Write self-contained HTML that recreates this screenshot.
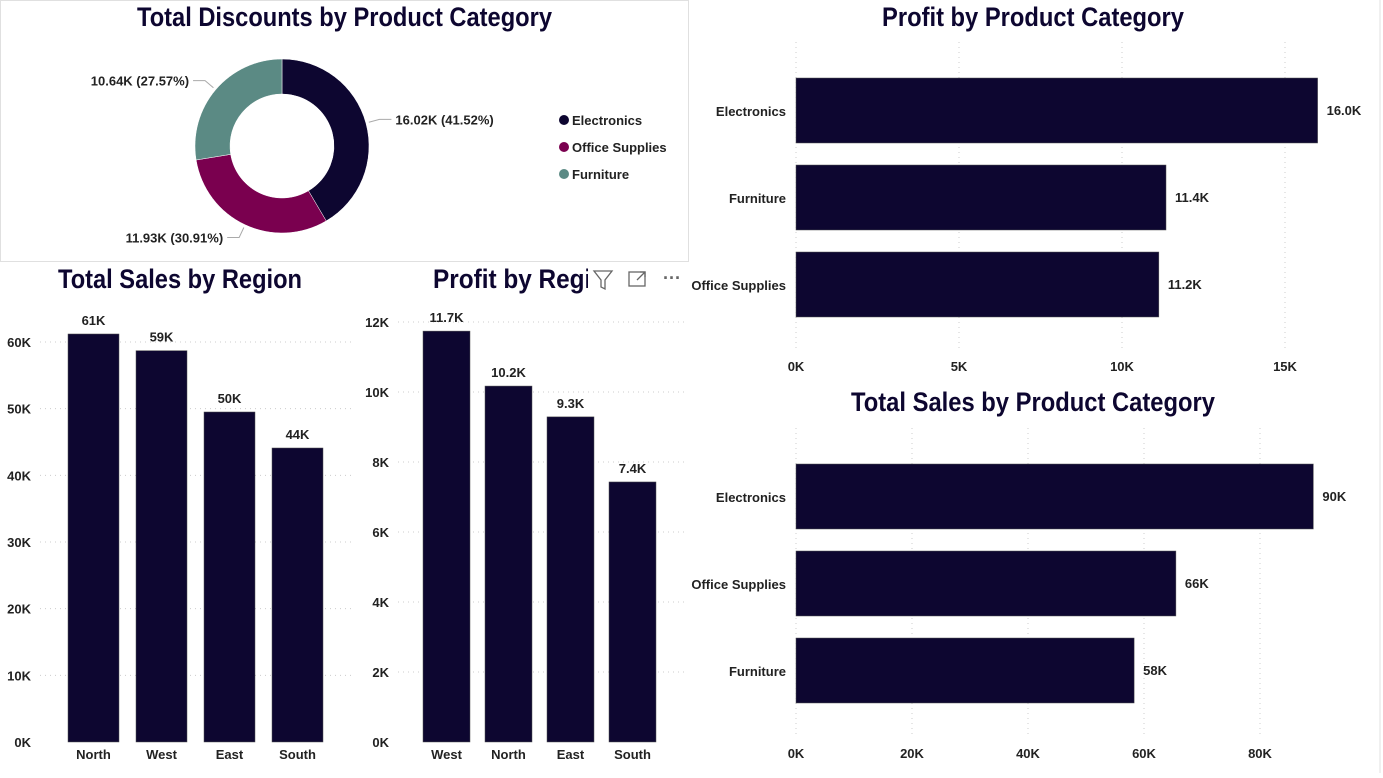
<!DOCTYPE html>
<html><head><meta charset="utf-8"><style>
body{margin:0;background:#fff;width:1383px;height:773px;overflow:hidden;font-family:"Liberation Sans",sans-serif}
text{font-family:"Liberation Sans",sans-serif;font-weight:bold;fill:#1a1a2e}
.t{font-size:27px;fill:#0d0630}
.l{font-size:13px;fill:#222}
</style></head><body>
<svg id="svg" width="1383" height="773">
<rect x="0.5" y="0.5" width="688" height="261" fill="none" stroke="#e0e0e0"/>
<line x1="1380" y1="0" x2="1380" y2="773" stroke="#e0e0e0"/>
<text class="t" x="137" y="26" textLength="415" lengthAdjust="spacingAndGlyphs">Total Discounts by Product Category</text>
<text class="t" x="882" y="26" textLength="302" lengthAdjust="spacingAndGlyphs">Profit by Product Category</text>
<text class="t" x="58" y="288" textLength="244" lengthAdjust="spacingAndGlyphs">Total Sales by Region</text>
<svg x="420" y="255" width="168" height="45"><text class="t" x="13" y="33" textLength="188" lengthAdjust="spacingAndGlyphs">Profit by Region</text></svg>
<text class="t" x="851" y="411" textLength="364" lengthAdjust="spacingAndGlyphs">Total Sales by Product Category</text>
<g><path d="M594 271 L612 271 L605 280 L605 289 L601 287 L601 280 Z" fill="none" stroke="#666" stroke-width="1.3"/></g>
<g><rect x="629" y="272" width="16" height="14" fill="none" stroke="#666" stroke-width="1.3"/><path d="M637 280 L645 272 M640 272 L645 272 L645 277" fill="none" stroke="#666" stroke-width="1.3"/></g>
<text x="663" y="284" style="font-size:18px;fill:#666">···</text>
<g id="g"></g>
</svg>
<script>
const donutCats=["Electronics","Office Supplies","Furniture"];
const donutVals=[16.02,11.93,10.64];
const donutLabels=["16.02K (41.52%)","11.93K (30.91%)","10.64K (27.57%)"];
const regionCats=["North","West","East","South"];
const regionSales=[61.2,58.7,49.5,44.1];
const regionSalesLabels=["61K","59K","50K","44K"];
const salesTicks=[0,10,20,30,40,50,60];
const profitRegionCats=["West","North","East","South"];
const profitRegionVals=[11.74,10.17,9.29,7.43];
const profitRegionLabels=["11.7K","10.2K","9.3K","7.4K"];
const profitTicks=[0,2,4,6,8,10,12];
const profitCatCats=["Electronics","Furniture","Office Supplies"];
const profitCatVals=[16.0,11.35,11.13];
const profitCatLabels=["16.0K","11.4K","11.2K"];
const profitCatTicks=[0,5,10,15];
const salesCatCats=["Electronics","Office Supplies","Furniture"];
const salesCatVals=[89.2,65.5,58.3];
const salesCatLabels=["90K","66K","58K"];
const salesCatTicks=[0,20,40,60,80];

const NS="http://www.w3.org/2000/svg",G=document.getElementById('g');
const BAR="#0d0630";
function mk(t,a,txt){const e=document.createElementNS(NS,t);for(const k in a)e.setAttribute(k,a[k]);if(txt!=null)e.textContent=txt;G.appendChild(e);return e;}

// donut
const colors=["#0d0630","#7a004f","#5b8a84"];
const cx=282,cy=146,R=87,r=52;
const tot=donutVals.reduce((a,b)=>a+b,0);
let a0=-Math.PI/2;
donutVals.forEach((v,i)=>{
  const a1=a0+v/tot*2*Math.PI,lg=(a1-a0)>Math.PI?1:0;
  const p=(rr,a)=>[cx+rr*Math.cos(a),cy+rr*Math.sin(a)];
  const [x0,y0]=p(R,a0),[x1,y1]=p(R,a1),[x2,y2]=p(r,a1),[x3,y3]=p(r,a0);
  const e=mk('path',{d:`M${x0} ${y0}A${R} ${R} 0 ${lg} 1 ${x1} ${y1}L${x2} ${y2}A${r} ${r} 0 ${lg} 0 ${x3} ${y3}Z`,fill:colors[i],stroke:"#fff","stroke-width":0.5});
  
  
  const am=(a0+a1)/2,[ex,ey]=p(R+3,am),[mx,my]=p(R+14,am);
  const right=Math.cos(am)>0,lx=mx+(right?12:-12);
  const ln=mk('polyline',{points:`${ex},${ey} ${mx},${my} ${lx},${my}`,fill:"none",stroke:"#aaa","stroke-width":1});
  
  
  const t=mk('text',{x:lx+(right?4:-4),y:my+5,"text-anchor":right?"start":"end",class:"l"},donutLabels[i]);
  
  
  a0=a1;
});
donutCats.forEach((c,i)=>{
  const y=120+i*27;
  const d=mk('circle',{cx:564,cy:y,r:5,fill:colors[i]});
  
  
  const t=mk('text',{x:572,y:y+5,class:"l"},c);
  
  
});

function vchart(cats,vals,labels,ticks,o){
  const y=v=>o.y0-v*o.k;
  ticks.forEach(t=>{
    const tl=mk('text',{x:o.tickX,y:y(t)+5,"text-anchor":"end",class:"l"},t+"K");
    
    
    if(t>0){const g=mk('line',{x1:o.gx0,x2:o.gx1,y1:y(t),y2:y(t),stroke:"#ccc","stroke-dasharray":"1 4"});
    
    }
  });
  cats.forEach((c,i)=>{
    const x=o.x0+i*o.pitch;
    const b=mk('rect',{x:x,y:y(vals[i]),width:o.w,height:vals[i]*o.k,fill:BAR,stroke:"#555","stroke-width":0.5});
    
    
    const vl=mk('text',{x:x+o.w/2,y:y(vals[i])-9,"text-anchor":"middle",class:"l"},labels[i]);
    
    
    const cl=mk('text',{x:x+o.w/2,y:759,"text-anchor":"middle",class:"l"},c);
    
    
  });
}
vchart(regionCats,regionSales,regionSalesLabels,salesTicks,{y0:742,k:6.667,tickX:31,gx0:40,gx1:352,x0:68,pitch:68,w:51});
vchart(profitRegionCats,profitRegionVals,profitRegionLabels,profitTicks,{y0:742,k:35,tickX:389,gx0:398,gx1:686,x0:423,pitch:62,w:47});

function hchart(cats,vals,labels,ticks,o){
  const x=v=>796+v*o.k;
  ticks.forEach(t=>{
    const g=mk('line',{x1:x(t),x2:x(t),y1:o.gy0,y2:o.gy1,stroke:"#ccc","stroke-dasharray":"1 4"});
    
    
    const tl=mk('text',{x:x(t),y:o.tickY,"text-anchor":"middle",class:"l"},t+"K");
    
    
  });
  cats.forEach((c,i)=>{
    const yy=o.y0+i*87;
    const b=mk('rect',{x:796,y:yy,width:vals[i]*o.k,height:65,fill:BAR,stroke:"#555","stroke-width":0.5});
    
    
    const vl=mk('text',{x:x(vals[i])+9,y:yy+37,class:"l"},labels[i]);
    
    
    const cl=mk('text',{x:786,y:yy+38,"text-anchor":"end",class:"l"},c);
    
    
  });
}
hchart(profitCatCats,profitCatVals,profitCatLabels,profitCatTicks,{k:32.6,y0:78,gy0:42,gy1:348,tickY:371});
hchart(salesCatCats,salesCatVals,salesCatLabels,salesCatTicks,{k:5.8,y0:464,gy0:428,gy1:738,tickY:758});
</script>
</body></html>
